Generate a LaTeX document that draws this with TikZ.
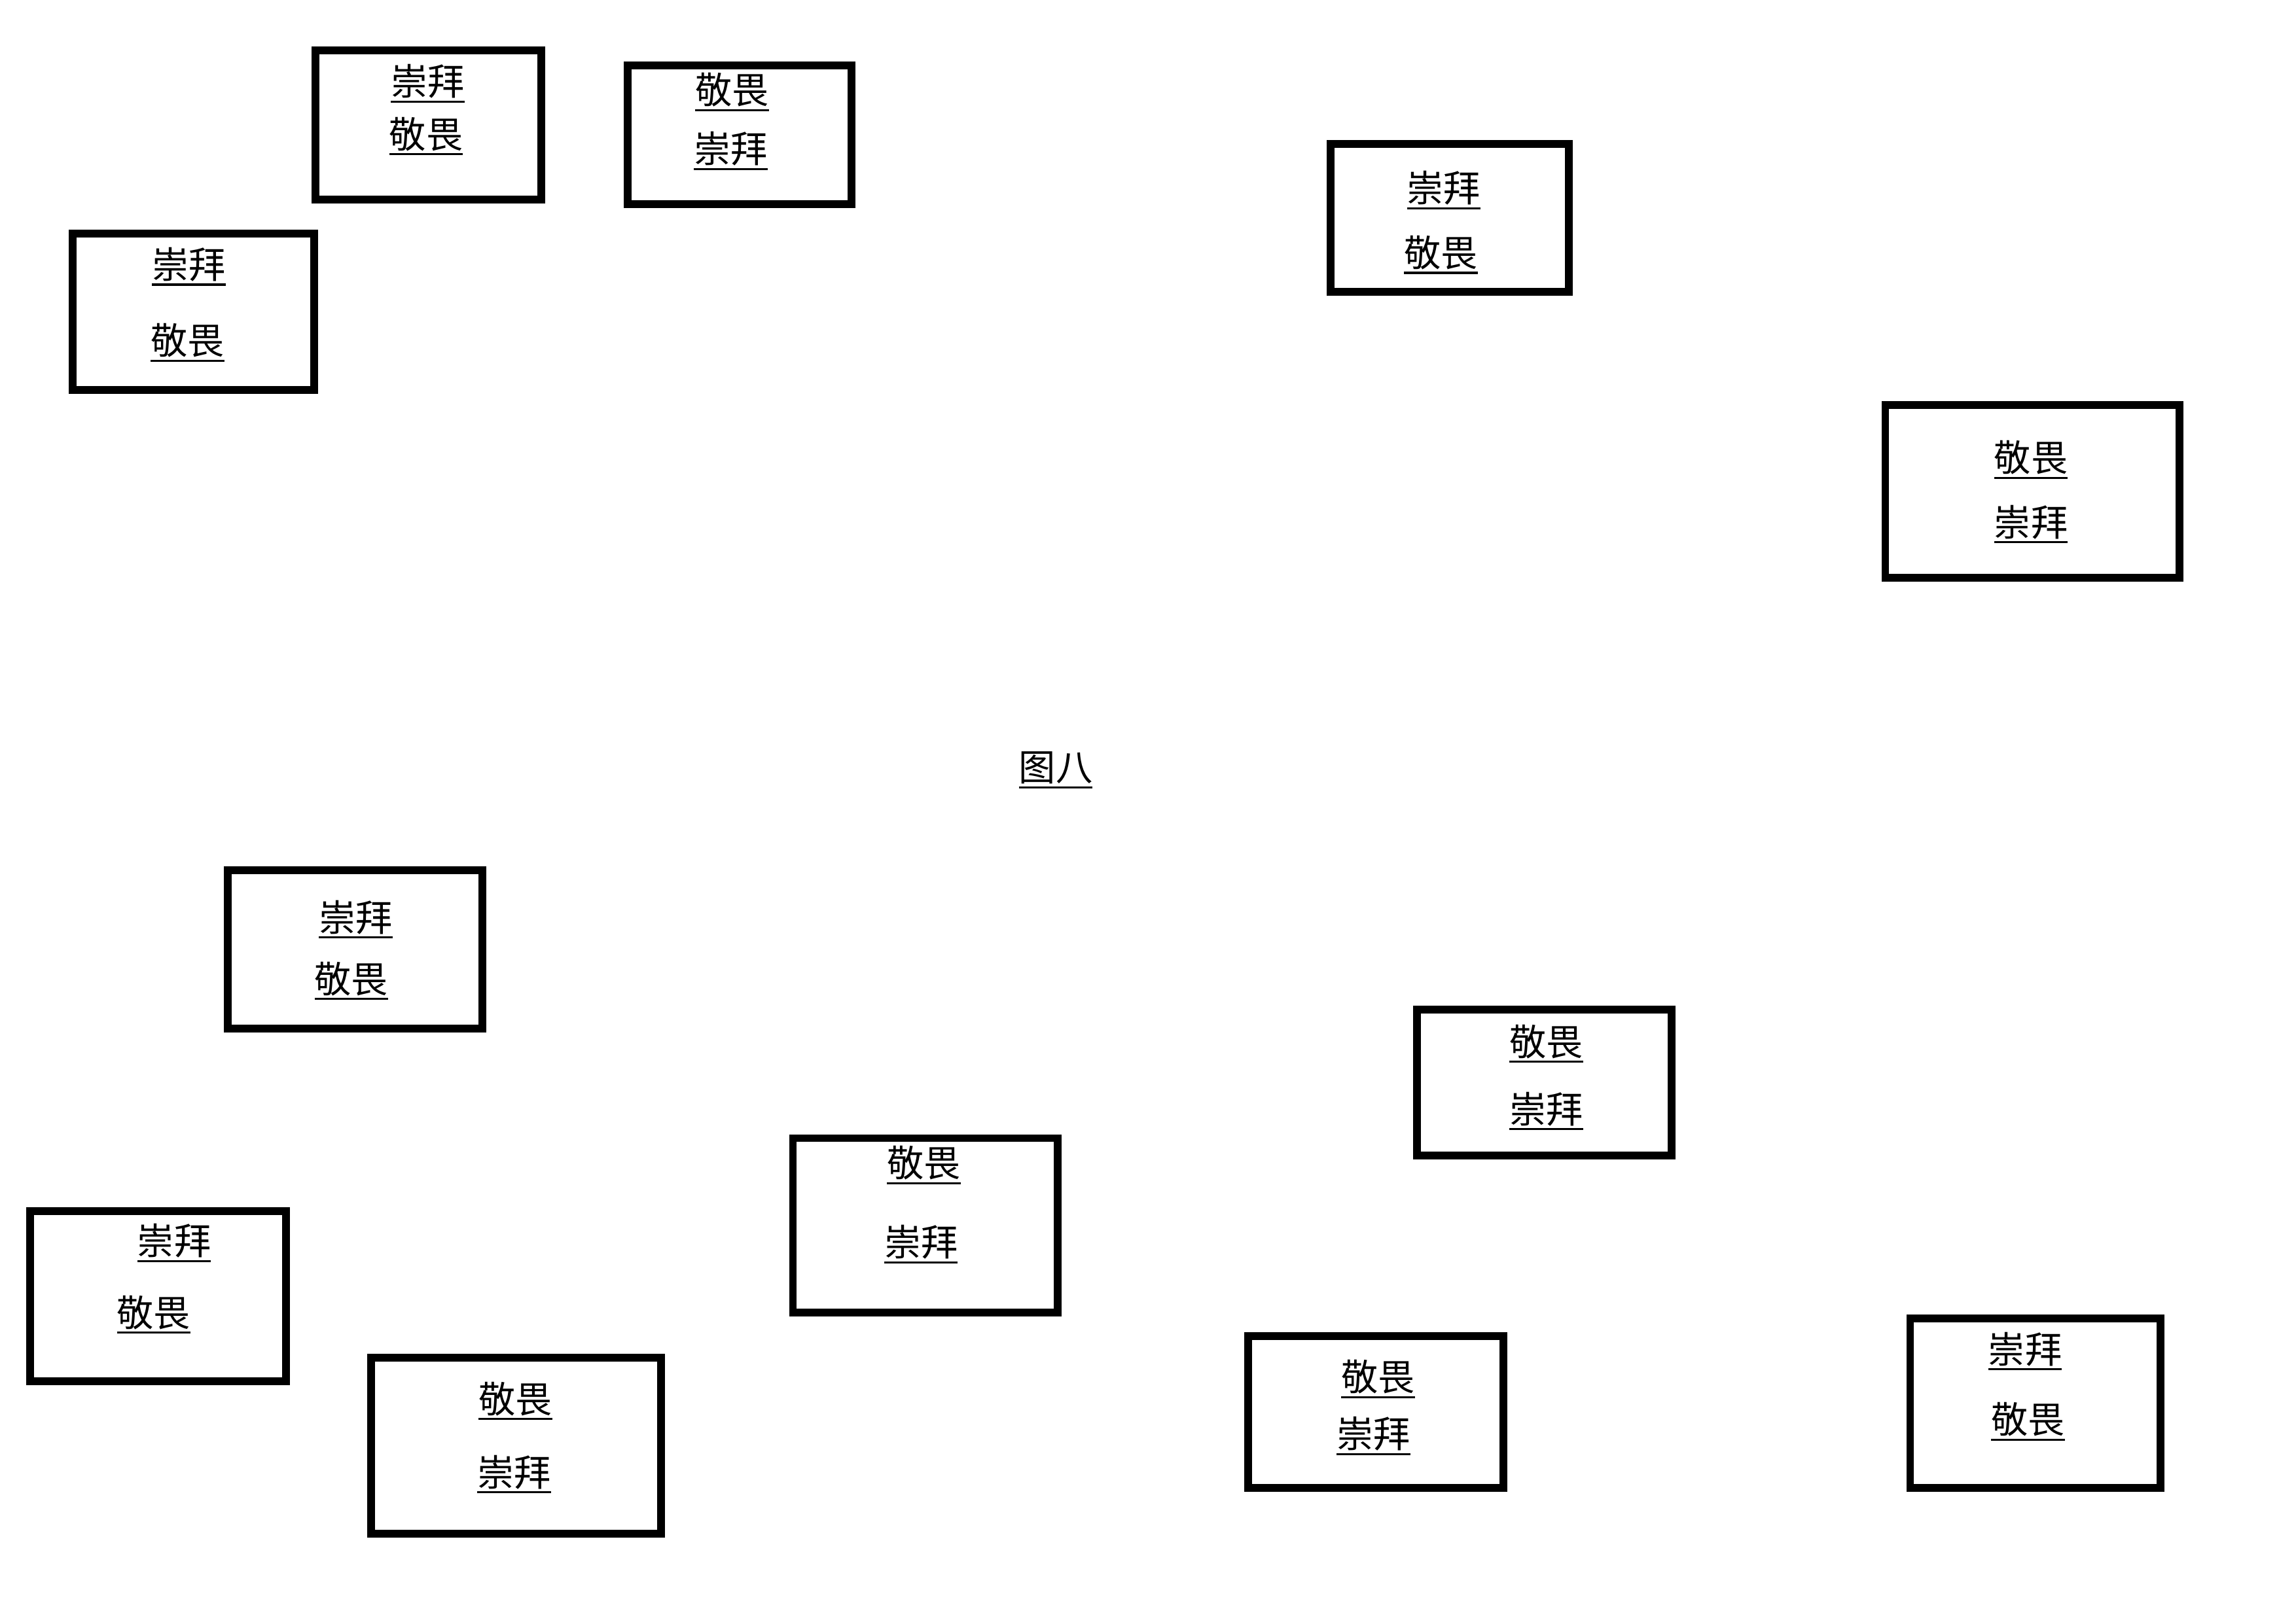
\documentclass[tikz,border=0pt]{standalone}
\usepackage{fontspec}
\setmainfont{Noto Sans CJK SC}
\newcommand\ulx[1]{\setbox0\hbox{#1}\hbox{\rlap{\rule[-3.2pt]{\wd0}{0.9pt}}\box0}}
\tikzset{
  boxline/.style={line width=3.4pt, draw=black, line join=miter},
  lbl/.style={inner sep=0pt, anchor=center, yshift=-0.045cm, font=\fontsize{16}{19}\selectfont}
}
\begin{document}
\begin{tikzpicture}[x=0.022372cm, y=-0.022372cm]
\useasboundingbox[fill=white] (0,0) rectangle (1568,1109);
% boxes (outer edges inset by half the line width)
\draw[boxline] (215.5,34.5) rectangle (369.5,136.5);
\draw[boxline] (428.5,44.5) rectangle (581.5,139.5);
\draw[boxline] (49.5,159.5) rectangle (214.5,266.5);
\draw[boxline] (908.5,98.5) rectangle (1071.5,199.5);
\draw[boxline] (1287.5,276.5) rectangle (1488.5,394.5);
\draw[boxline] (155.5,594.5) rectangle (329.5,702.5);
\draw[boxline] (967.5,689.5) rectangle (1141.5,789.5);
\draw[boxline] (541.5,777.5) rectangle (722.5,896.5);
\draw[boxline] (20.5,827.5) rectangle (195.5,943.5);
\draw[boxline] (253.5,927.5) rectangle (451.5,1047.5);
\draw[boxline] (852.5,912.5) rectangle (1026.5,1016.5);
\draw[boxline] (1304.5,900.5) rectangle (1475.5,1016.5);
% labels
\node[lbl] (a1) at (292,55) {\ulx{崇拜}};
\node[lbl] (a2) at (291,91) {\ulx{敬畏}};
\node[lbl] (b1) at (500,61) {\ulx{敬畏}};
\node[lbl] (b2) at (499,101) {\ulx{崇拜}};
\node[lbl] (c1) at (129,180) {\ulx{崇拜}};
\node[lbl] (c2) at (128,232) {\ulx{敬畏}};
\node[lbl] (d1) at (986,128) {\ulx{崇拜}};
\node[lbl] (d2) at (984,172) {\ulx{敬畏}};
\node[lbl] (e1) at (1387,312) {\ulx{敬畏}};
\node[lbl] (e2) at (1387,356) {\ulx{崇拜}};
\node[lbl] (title) at (721,524) {\ulx{图八}};
\node[lbl] (f1) at (243,626) {\ulx{崇拜}};
\node[lbl] (f2) at (240,668) {\ulx{敬畏}};
\node[lbl] (g1) at (1056,711) {\ulx{敬畏}};
\node[lbl] (g2) at (1056,757) {\ulx{崇拜}};
\node[lbl] (h1) at (631,794) {\ulx{敬畏}};
\node[lbl] (h2) at (629,848) {\ulx{崇拜}};
\node[lbl] (i1) at (119,847) {\ulx{崇拜}};
\node[lbl] (i2) at (105,896) {\ulx{敬畏}};
\node[lbl] (j1) at (352,955) {\ulx{敬畏}};
\node[lbl] (j2) at (351,1005) {\ulx{崇拜}};
\node[lbl] (k1) at (941,940) {\ulx{敬畏}};
\node[lbl] (k2) at (938,979) {\ulx{崇拜}};
\node[lbl] (l1) at (1383,921) {\ulx{崇拜}};
\node[lbl] (l2) at (1385,969) {\ulx{敬畏}};
\end{tikzpicture}
\end{document}
